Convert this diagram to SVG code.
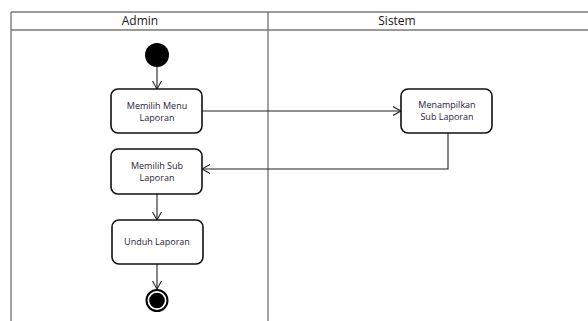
<svg xmlns="http://www.w3.org/2000/svg" width="588" height="321" viewBox="0 0 588 321">
  <style>
    .lane { fill: none; stroke: #7a7a7a; stroke-width: 1.4; }
    .head { font-family: "Open Sans", "Noto Sans", "DejaVu Sans", sans-serif; font-size: 12px; fill: #1a1a1a; text-anchor: middle; }
    .act { fill: #ffffff; stroke: #111111; stroke-width: 1.6; }
    .lbl { font-family: "Open Sans", "Noto Sans", "DejaVu Sans", sans-serif; font-size: 9px; fill: #2a1a3a; text-anchor: middle; }
    .flow { fill: none; stroke: #222222; stroke-width: 1.1; marker-end: url(#open); }
  </style>
  <defs>
    <marker id="open" viewBox="0 0 10 10" refX="8.5" refY="5" markerWidth="10" markerHeight="10" markerUnits="userSpaceOnUse" orient="auto">
      <path d="M0.5,0.5 L8.5,5 L0.5,9.5" fill="none" stroke="#222222" stroke-width="1.1"/>
    </marker>
  </defs>

  <!-- swimlane frame -->
  <g id="lanes">
    <path class="lane" d="M11,12 H588 M11,30 H588 M11,12 V321 M268,12 V321"/>
    <text class="head" x="140" y="25">Admin</text>
    <text class="head" x="397" y="25">Sistem</text>
  </g>

  <!-- connectors -->
  <g id="connectors">
    <path class="flow" d="M157,67 V89"/>
    <path class="flow" d="M202,111 H401"/>
    <path class="flow" d="M448,133 V169 H202"/>
    <path class="flow" d="M157,194 V220"/>
    <path class="flow" d="M157,264 V289"/>
  </g>

  <g id="start">
    <circle cx="157" cy="55" r="12" fill="#000000"/>
  </g>

  <g id="memilih-menu">
    <rect class="act" x="111" y="89" width="91" height="44" rx="7"/>
    <text class="lbl" x="157" y="109">Memilih Menu</text>
    <text class="lbl" x="157" y="121">Laporan</text>
  </g>

  <g id="menampilkan">
    <rect class="act" x="401" y="89" width="91" height="44" rx="7"/>
    <text class="lbl" x="447" y="108">Menampilkan</text>
    <text class="lbl" x="447" y="120">Sub Laporan</text>
  </g>

  <g id="memilih-sub">
    <rect class="act" x="111" y="149" width="91" height="45" rx="7"/>
    <text class="lbl" x="157" y="169">Memilih Sub</text>
    <text class="lbl" x="157" y="181">Laporan</text>
  </g>

  <g id="unduh">
    <rect class="act" x="112" y="220" width="91" height="44" rx="7"/>
    <text class="lbl" x="157" y="245">Unduh Laporan</text>
  </g>

  <g id="end">
    <circle cx="157" cy="300.5" r="10.5" fill="#ffffff" stroke="#000000" stroke-width="2"/>
    <circle cx="157" cy="300.5" r="7.8" fill="#000000"/>
  </g>
</svg>
